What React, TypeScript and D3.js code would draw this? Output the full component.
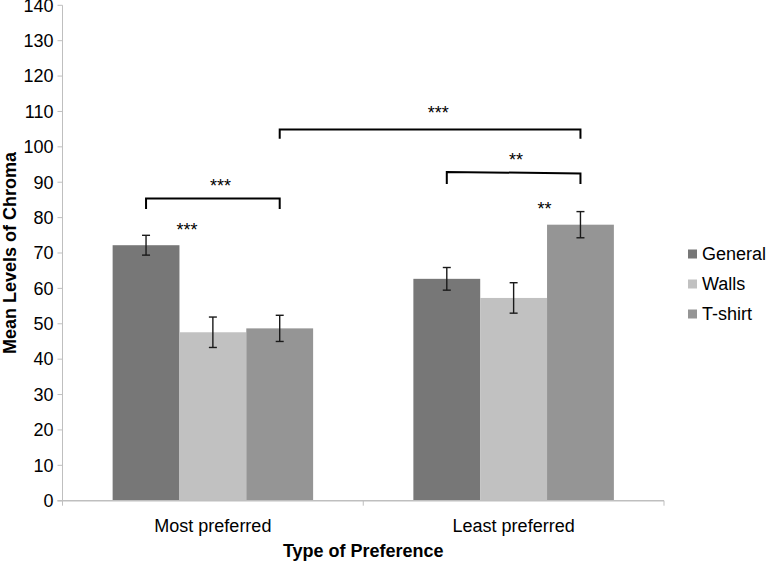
import * as d3 from 'd3';

const categories = ['Most preferred', 'Least preferred'];
const seriesNames = ['General', 'Walls', 'T-shirt'];
const seriesColors = ['#777777', '#c1c1c1', '#959595'];

// mean per series, one value per category
const generalValues = [72.2, 62.7];
const wallsValues = [47.6, 57.3];
const tshirtValues = [48.7, 78.0];

// half-width of the error bars
const generalErrors = [2.8, 3.2];
const wallsErrors = [4.3, 4.3];
const tshirtErrors = [3.7, 3.7];

const yTicks = [0, 10, 20, 30, 40, 50, 60, 70, 80, 90, 100, 110, 120, 130, 140];

// significance brackets: [category, series] at each end, level and tip in data units
const brackets = [
  { from: [0, 0], to: [0, 2], levelA: 85.4, levelB: 85.4, tip: 82.4 },
  { from: [0, 2], to: [1, 2], levelA: 104.9, levelB: 104.9, tip: 102.3 },
  { from: [1, 0], to: [1, 2], levelA: 92.9, levelB: 92.5, tip: 89.5 },
];

// star labels: position along the category axis (0..2) and value of the glyph centre
const starLabels = [
  { text: '***', pos: 0.414, value: 77.5 },
  { text: '***', pos: 0.525, value: 90.1 },
  { text: '***', pos: 1.249, value: 110.6 },
  { text: '**', pos: 1.508, value: 97.5 },
  { text: '**', pos: 1.603, value: 83.7 },
];

const width = 767;
const height = 562;
const margin = { left: 62.5, right: 103, top: 5.3, bottom: 61.3 };
const font = '"Liberation Sans", Arial, sans-serif';

export default function App() {
  const values = [generalValues, wallsValues, tshirtValues];
  const errors = [generalErrors, wallsErrors, tshirtErrors];

  const x0 = d3.scaleBand<string>()
    .domain(categories)
    .range([margin.left, width - margin.right])
    .paddingInner(1 / 3)
    .paddingOuter(1 / 6);
  const x1 = d3.scaleBand<string>()
    .domain(seriesNames)
    .range([0, x0.bandwidth()]);
  const xPos = d3.scaleLinear().domain([0, categories.length]).range([margin.left, width - margin.right]);
  const y = d3.scaleLinear().domain([0, 140]).range([height - margin.bottom, margin.top]);

  const barCenter = (c: number, s: number) =>
    (x0(categories[c]) as number) + (x1(seriesNames[s]) as number) + x1.bandwidth() / 2;

  const axisColor = '#bfbfbf';
  const x0Edge = margin.left;
  const x1Edge = width - margin.right;
  const yBase = y(0);

  return (
    <>
      <style>{'body{margin:0}'}</style>
      <svg width={width} height={height} style={{ display: 'block', fontFamily: font }}>
        <rect width={width} height={height} fill="#ffffff" />

        {/* bars */}
        {seriesNames.map((s, si) =>
          categories.map((c, ci) => (
            <rect
              key={s + c}
              x={(x0(c) as number) + (x1(s) as number)}
              y={y(values[si][ci])}
              width={x1.bandwidth()}
              height={yBase - y(values[si][ci])}
              fill={seriesColors[si]}
            />
          ))
        )}

        {/* error bars */}
        {seriesNames.map((s, si) =>
          categories.map((c, ci) => {
            const cx = barCenter(ci, si);
            const hi = y(values[si][ci] + errors[si][ci]);
            const lo = y(values[si][ci] - errors[si][ci]);
            return (
              <g key={'e' + s + c} stroke="#1a1a1a" strokeWidth={1.4}>
                <line x1={cx} x2={cx} y1={hi} y2={lo} />
                <line x1={cx - 4} x2={cx + 4} y1={hi} y2={hi} />
                <line x1={cx - 4} x2={cx + 4} y1={lo} y2={lo} />
              </g>
            );
          })
        )}

        {/* axes */}
        <line x1={x0Edge} x2={x0Edge} y1={y(140)} y2={yBase} stroke={axisColor} strokeWidth={1} />
        <line x1={x0Edge - 5} x2={x1Edge} y1={yBase} y2={yBase} stroke={axisColor} strokeWidth={1.5} />
        {yTicks.map((t) => (
          <g key={'t' + t}>
            <line x1={x0Edge - 5} x2={x0Edge} y1={y(t)} y2={y(t)} stroke={axisColor} />
            <text x={x0Edge - 9} y={y(t)} dy="0.35em" textAnchor="end" fontSize={18} fill="#000">
              {t}
            </text>
          </g>
        ))}
        {d3.range(categories.length + 1).map((i) => (
          <line key={'xt' + i} x1={xPos(i)} x2={xPos(i)} y1={yBase} y2={yBase + 5} stroke={axisColor} />
        ))}
        {categories.map((c) => (
          <text
            key={'xl' + c}
            x={(x0(c) as number) + x0.bandwidth() / 2}
            y={531.5}
            textAnchor="middle"
            fontSize={18}
            fill="#000"
          >
            {c}
          </text>
        ))}

        {/* axis titles */}
        <text
          x={(x0Edge + x1Edge) / 2}
          y={557}
          textAnchor="middle"
          fontSize={18}
          fontWeight="bold"
          fill="#000"
        >
          Type of Preference
        </text>
        <text
          transform={`translate(16,${(y(0) + y(140)) / 2}) rotate(-90)`}
          textAnchor="middle"
          fontSize={18}
          fontWeight="bold"
          fill="#000"
        >
          Mean Levels of Chroma
        </text>

        {/* significance brackets */}
        {brackets.map((b, i) => {
          const xa = barCenter(b.from[0], b.from[1]);
          const xb = barCenter(b.to[0], b.to[1]);
          const d = `M${xa},${y(b.tip)}L${xa},${y(b.levelA)}L${xb},${y(b.levelB)}L${xb},${y(b.tip)}`;
          return <path key={'b' + i} d={d} fill="none" stroke="#000" strokeWidth={2} />;
        })}
        {starLabels.map((l, i) => (
          <text
            key={'s' + i}
            x={xPos(l.pos)}
            y={y(l.value) + 10}
            textAnchor="middle"
            fontSize={18}
            fill="#000"
          >
            {l.text}
          </text>
        ))}

        {/* legend */}
        {seriesNames.map((s, i) => (
          <g key={'lg' + s} transform={`translate(688,${254 + i * 30})`}>
            <rect x={0} y={-4.5} width={9} height={9} fill={seriesColors[i]} />
            <text x={14} y={0} dy="0.35em" fontSize={18} fill="#000">
              {s}
            </text>
          </g>
        ))}
      </svg>
    </>
  );
}
